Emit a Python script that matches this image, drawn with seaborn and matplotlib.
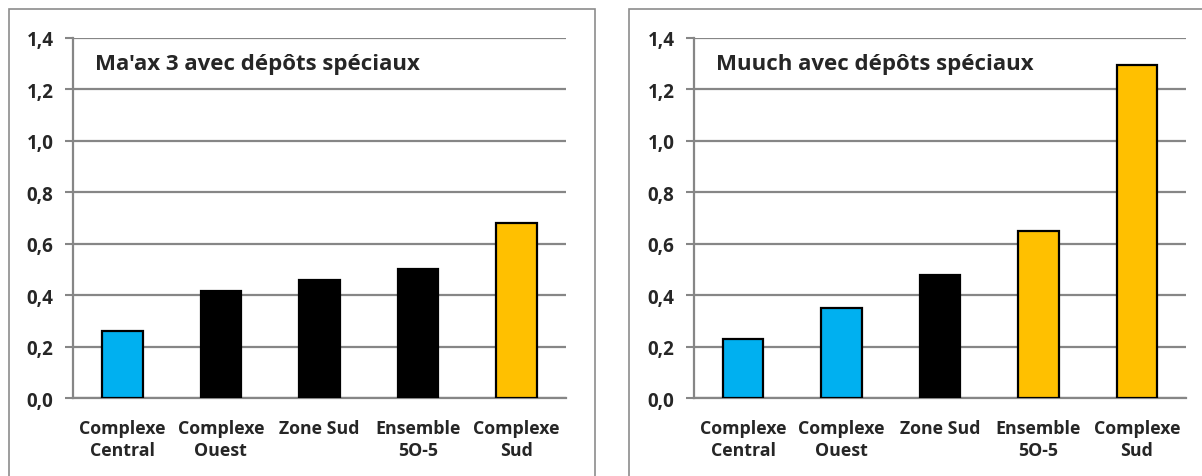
import matplotlib
matplotlib.use("Agg")
import matplotlib.pyplot as plt
import seaborn as sns
import pandas as pd
from matplotlib.patches import Rectangle

# data
categories = ["Complexe\nCentral", "Complexe\nOuest", "Zone Sud", "Ensemble\n5O-5", "Complexe\nSud"]
maax_values = [0.26, 0.415, 0.46, 0.50, 0.68]
muuch_values = [0.23, 0.35, 0.48, 0.65, 1.295]
maax_colors = ["#00B0F0", "#000000", "#000000", "#000000", "#FFC000"]
muuch_colors = ["#00B0F0", "#00B0F0", "#000000", "#FFC000", "#FFC000"]
titles = ["Ma'ax 3 avec dépôts spéciaux", "Muuch avec dépôts spéciaux"]
yticks = [0.0, 0.2, 0.4, 0.6, 0.8, 1.0, 1.2, 1.4]

sns.set_style("white")
plt.rcParams['font.family'] = ['Open Sans', 'DejaVu Sans']

GRID = "#868686"

fig = plt.figure(figsize=(12.02, 4.77), dpi=100)
ax1 = fig.add_axes([73 / 1202, 1 - 399 / 477, 493 / 1202, 360 / 477])
ax2 = fig.add_axes([694 / 1202, 1 - 399 / 477, 492 / 1202, 360 / 477])

# panel frames
fig.patches.append(Rectangle((8.5 / 1202, -0.05), 586.5 / 1202, 1.05 - 10 / 477,
                             transform=fig.transFigure, fill=False, ec="#8c8c8c", lw=1.2, zorder=0))
fig.patches.append(Rectangle((629 / 1202, -0.05), 600 / 1202, 1.05 - 10 / 477,
                             transform=fig.transFigure, fill=False, ec="#8c8c8c", lw=1.2, zorder=0))

for ax, vals, cols, title in [(ax1, maax_values, maax_colors, titles[0]),
                              (ax2, muuch_values, muuch_colors, titles[1])]:
    df = pd.DataFrame({"cat": categories, "val": vals})
    sns.barplot(data=df, x="cat", y="val", hue="cat", palette=dict(zip(categories, cols)),
                saturation=1, legend=False, width=0.41, edgecolor="black", linewidth=1.6,
                ax=ax, zorder=3)
    ax.set_ylim(0, 1.4)
    ax.set_xlim(-0.5, 4.5)
    ax.set_yticks(yticks)
    ax.set_yticklabels([f"{v:.1f}".replace(".", ",") for v in yticks],
                       fontsize=13.5, fontweight="bold")
    ax.set_xticks(range(len(categories)))
    ax.set_xticklabels(categories, fontsize=12.8, fontweight="bold", linespacing=1.3)
    ax.set_xticks([i - 0.5 for i in range(len(categories) + 1)], minor=True)
    ax.tick_params(axis="x", which="major", length=0, pad=15)
    ax.tick_params(axis="x", which="minor", length=6, width=1.5, color=GRID, direction="out")
    ax.tick_params(axis="y", length=6, width=1.5, color=GRID, direction="out", pad=8, left=True)
    ax.grid(axis="y", color=GRID, lw=1.6, zorder=0)
    ax.set_axisbelow(True)
    for s in ["top", "right"]:
        ax.spines[s].set_visible(False)
    for s in ["left", "bottom"]:
        ax.spines[s].set_color(GRID)
        ax.spines[s].set_linewidth(1.6)
    ax.set_xlabel("")
    ax.set_ylabel("")
    ax.text(0.045, 0.93, title, transform=ax.transAxes, fontsize=16, fontweight="bold",
            ha="left", va="center", zorder=5)

fig.savefig("out.png", dpi=100)
